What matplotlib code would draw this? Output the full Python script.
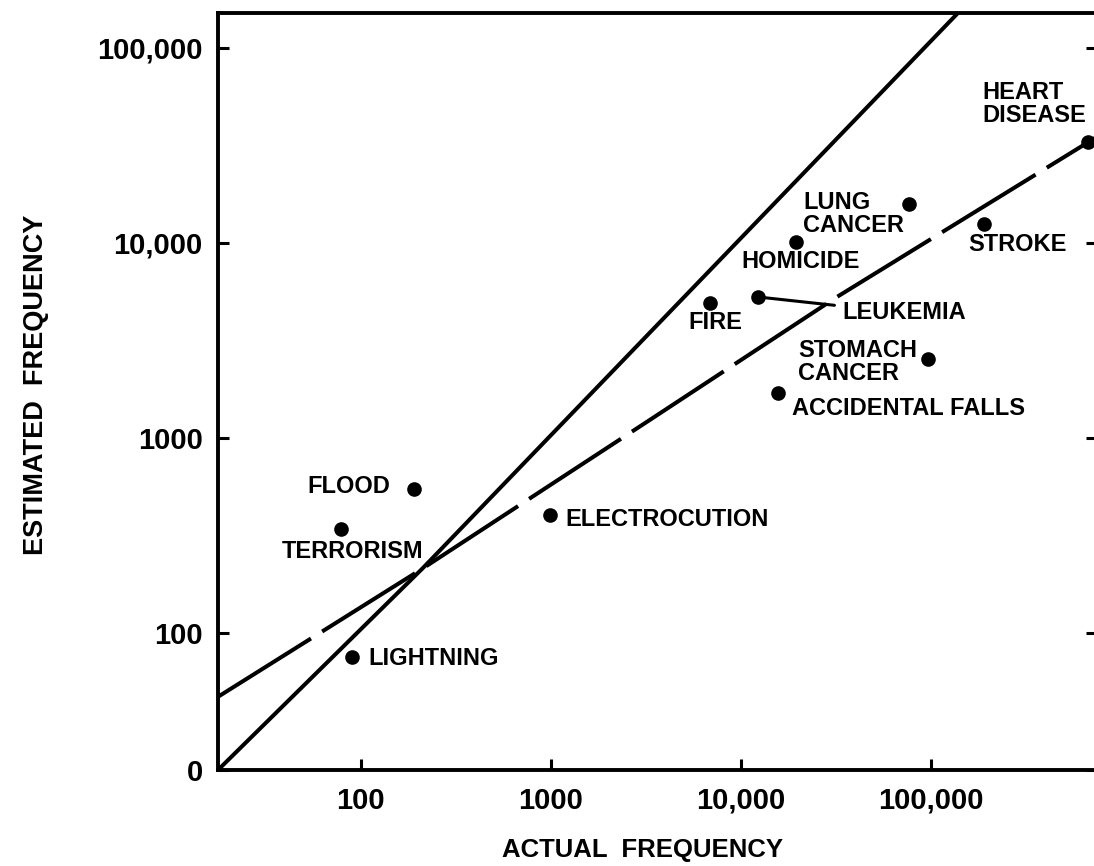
import numpy as np
import matplotlib
matplotlib.use('Agg')
import matplotlib.pyplot as plt

plt.rcParams['font.family'] = ['Liberation Sans', 'DejaVu Sans']
plt.rcParams['font.weight'] = 'bold'
plt.rcParams['lines.scale_dashes'] = False

# causes of death: actual vs. estimated annual frequency
causes = ['LIGHTNING', 'TERRORISM', 'FLOOD', 'ELECTROCUTION', 'FIRE', 'LEUKEMIA',
          'ACCIDENTAL FALLS', 'HOMICIDE', 'STOMACH\nCANCER', 'LUNG\nCANCER',
          'STROKE', 'HEART\nDISEASE']
actual = [90, 79, 190, 988, 6870, 12300, 15700, 19500, 97000, 76500, 190000, 670000]
estimated = [75, 341, 547, 403, 4920, 5280, 1700, 10100, 2540, 15800, 12500, 33000]

# reference lines
identity_x = [17.7, 210, 138700]
identity_y = [19.8, 213, 151000]
fit_x = [17.7, 210, 3320, 32000, 748000]
fit_y = [47, 213, 1237, 5280, 35000]

x_ticks = [100, 1000, 10000, 100000]
x_ticklabels = ['100', '1000', '10,000', '100,000']
y_ticks = [19.8, 100, 1000, 10000, 100000]
y_ticklabels = ['0', '100', '1000', '10,000', '100,000']

# label offsets in points, alignment
label_pos = {
    'LIGHTNING': ((11.5, -0.7), 'left'),
    'TERRORISM': ((8, -16), 'center'),
    'FLOOD': ((-17, 1.5), 'right'),
    'ELECTROCUTION': ((11, -3.6), 'left'),
    'FIRE': ((3.6, -14.4), 'center'),
    'LEUKEMIA': ((61, -11.5), 'left'),
    'ACCIDENTAL FALLS': ((10, -11.5), 'left'),
    'HOMICIDE': ((3, -13.7), 'center'),
    'STOMACH\nCANCER': ((-94, -2), 'left'),
    'LUNG\nCANCER': ((-76, -7), 'left'),
    'STROKE': ((-11, -15), 'left'),
    'HEART\nDISEASE': ((-76, 27), 'left'),
}

W, H = 1094, 866
fig = plt.figure(figsize=(W / 100, H / 100), dpi=100)
ax = fig.add_axes([218 / W, (H - 770) / H, (1097 - 218) / W, (770 - 13) / H])
ax.set_xscale('log')
ax.set_yscale('log')
ax.set_xlim(17.7, 748000)
ax.set_ylim(19.8, 151000)

ax.plot(identity_x, identity_y, color='black', lw=2.9, solid_capstyle='butt')
ax.plot(fit_x, fit_y, color='black', lw=2.9, linestyle=(0, (79, 9.5)),
        dash_capstyle='butt')
ax.plot(actual, estimated, 'o', color='black', markersize=9.5, clip_on=False)

for name, xv, yv in zip(causes, actual, estimated):
    off, ha = label_pos[name]
    if name == 'LEUKEMIA':
        ax.annotate(name, (xv, yv), xytext=off, textcoords='offset points',
                    ha=ha, va='center', fontsize=17, linespacing=1.0,
                    arrowprops=dict(arrowstyle='-', lw=2.2, color='black',
                                    shrinkA=4, shrinkB=3))
    else:
        ax.annotate(name, (xv, yv), xytext=off, textcoords='offset points',
                    ha=ha, va='center', fontsize=17, linespacing=1.0)

ax.set_xticks(x_ticks)
ax.set_xticklabels(x_ticklabels)
ax.set_yticks(y_ticks)
ax.set_yticklabels(y_ticklabels)
ax.minorticks_off()
ax.tick_params(axis='both', direction='in', length=8, width=2.2, labelsize=21)
ax.tick_params(axis='x', pad=12)
ax.tick_params(axis='y', pad=11, right=True)

for sp in ax.spines.values():
    sp.set_linewidth(2.8)

fig.text(643 / W, 1 - 850 / H, 'ACTUAL  FREQUENCY', ha='center', va='center',
         fontsize=18.5)
fig.text(36 / W, 1 - 385 / H, 'ESTIMATED  FREQUENCY', ha='center', va='center',
         rotation=90, fontsize=19.5)

fig.savefig('out.png', dpi=100)
